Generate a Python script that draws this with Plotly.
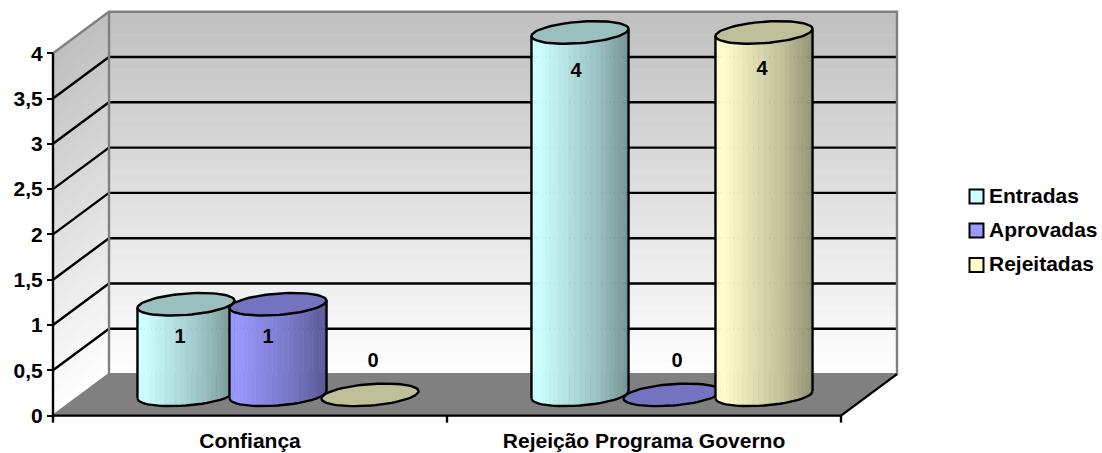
import math
import plotly.graph_objects as go

# ---- data ----
categories = ["Confiança", "Rejeição Programa Governo"]
series_names = ["Entradas", "Aprovadas", "Rejeitadas"]
entradas = [1, 4]
aprovadas = [1, 0]
rejeitadas = [0, 4]
y_ticks = [0, 0.5, 1, 1.5, 2, 2.5, 3, 3.5, 4]
y_tick_labels = ["0", "0,5", "1", "1,5", "2", "2,5", "3", "3,5", "4"]

# ---- layout constants ----
W, H = 1102, 453
X0_PX, Y0_PX = 53.0, 415.6
PX_CAT, PX_UNIT = 394.0, 90.6
DEPTH_X, DEPTH_Y = 56.0 / PX_CAT, 41.5 / PX_UNIT
YMAX = 4
FONT = "Liberation Sans, Arial, sans-serif"
FS = 21
LW = 2.4
BASE = [(204, 255, 255), (153, 153, 255), (255, 255, 204)]
SLOT = 92.0 / PX_CAT
A = 46.0 / PX_CAT          # half width vector
DX = 15.5 / PX_CAT         # half depth vector
DY = 11.3 / PX_UNIT
NUDGE = {(0, 0): (-6, 33.5), (0, 1): (-10, 33.5), (0, 2): (3, -33),
         (1, 0): (-4, 40), (1, 1): (5, -33), (1, 2): (-2, 38)}


def rgb(c, f=1.0):
    return "rgb(%d,%d,%d)" % tuple(round(v * f) for v in c)


traces = []


def poly(xs, ys, color, line_w=0.6):
    traces.append(go.Scatter(x=list(xs) + [xs[0]], y=list(ys) + [ys[0]], mode="lines", fill="toself",
                             fillcolor=color, line=dict(color=color, width=line_w),
                             hoverinfo="skip", showlegend=False))


def line(xs, ys, color="black", w=LW):
    traces.append(go.Scatter(x=xs, y=ys, mode="lines", line=dict(color=color, width=w),
                             hoverinfo="skip", showlegend=False))


# walls
n_cat = len(categories)
N = 32
for i in range(N):
    v0, v1 = YMAX * i / N, YMAX * (i + 1) / N
    g = 255 - (255 - 192) * (i + 0.5) / N
    col = "rgb(%d,%d,%d)" % (g, g, g)
    poly([DEPTH_X, n_cat + DEPTH_X, n_cat + DEPTH_X, DEPTH_X],
         [v0 + DEPTH_Y, v0 + DEPTH_Y, v1 + DEPTH_Y, v1 + DEPTH_Y], col)
    poly([0, DEPTH_X, DEPTH_X, 0], [v0, v0 + DEPTH_Y, v1 + DEPTH_Y, v1], col)

# floor
poly([0, n_cat, n_cat + DEPTH_X, DEPTH_X], [0, 0, DEPTH_Y, DEPTH_Y], "rgb(128,128,128)")

# gridlines
for v in y_ticks[1:-1]:
    line([0, DEPTH_X, n_cat + DEPTH_X], [v, v + DEPTH_Y, v + DEPTH_Y])

# frame
GR = "rgb(128,128,128)"
line([0, DEPTH_X, n_cat + DEPTH_X, n_cat + DEPTH_X, DEPTH_X],
     [YMAX, YMAX + DEPTH_Y, YMAX + DEPTH_Y, DEPTH_Y, DEPTH_Y], GR)
line([DEPTH_X, DEPTH_X], [YMAX + DEPTH_Y, DEPTH_Y], GR)
line([0, DEPTH_X], [0, DEPTH_Y], GR)
line([n_cat, n_cat + DEPTH_X], [0, DEPTH_Y])
line([0, n_cat], [0, 0])
line([0, 0], [0, YMAX])
for c in range(n_cat + 1):
    line([c, c], [0, -7 / PX_UNIT])


# cylinders
T0 = math.atan2(DX * PX_CAT, A * PX_CAT)


def pt(cx, cy, t):
    return cx + A * math.cos(t) + DX * math.sin(t), cy + DY * math.sin(t)


def shade(s):
    if s < 0.08:
        return 1.0
    if s < 0.7:
        return 1.0 - 0.25 * (s - 0.08) / 0.62
    return 0.75 - 0.17 * (s - 0.7) / 0.3


all_series = [entradas, aprovadas, rejeitadas]
lab_x, lab_y, lab_t = [], [], []
for ci in range(n_cat):
    for si, vals in enumerate(all_series):
        v = vals[ci]
        cx = ci + 0.5 + (si - 1) * SLOT + DEPTH_X / 2
        cy = DEPTH_Y / 2
        M = 28
        ts = [T0 + math.pi + math.pi * k / M for k in range(M + 1)]
        base_pts = [pt(cx, cy, t) for t in ts]
        top_pts = [pt(cx, cy + v, t) for t in ts]
        xmin, xmax = base_pts[0][0], base_pts[-1][0]
        if v > 0:
            for k in range(M):
                s = ((base_pts[k][0] + base_pts[k + 1][0]) / 2 - xmin) / (xmax - xmin)
                poly([base_pts[k][0], base_pts[k + 1][0], top_pts[k + 1][0], top_pts[k][0]],
                     [base_pts[k][1], base_pts[k + 1][1], top_pts[k + 1][1], top_pts[k][1]],
                     rgb(BASE[si], shade(s)))
            line([p[0] for p in base_pts], [p[1] for p in base_pts])
            line([base_pts[0][0], top_pts[0][0]], [base_pts[0][1], top_pts[0][1]])
            line([base_pts[-1][0], top_pts[-1][0]], [base_pts[-1][1], top_pts[-1][1]])
        ell = [pt(cx, cy + v, 2 * math.pi * k / 72) for k in range(73)]
        traces.append(go.Scatter(x=[p[0] for p in ell], y=[p[1] for p in ell], mode="lines", fill="toself",
                                 fillcolor=rgb(BASE[si], 0.75), line=dict(color="black", width=LW),
                                 hoverinfo="skip", showlegend=False))
        nx, ny = NUDGE[(ci, si)]
        lab_x.append(cx + nx / PX_CAT)
        lab_y.append(cy + v - ny / PX_UNIT)
        lab_t.append("<b>%d</b>" % v)

traces.append(go.Scatter(x=lab_x, y=lab_y, mode="text", text=lab_t, textposition="middle center",
                         textfont=dict(family=FONT, size=FS - 1, color="black"),
                         hoverinfo="skip", showlegend=False))


# legend
def X(px):
    return (px - X0_PX) / PX_CAT


def Y(py):
    return (Y0_PX - py) / PX_UNIT


for si, (name, py) in enumerate(zip(series_names, [196.5, 230.5, 265])):
    traces.append(go.Scatter(x=[X(976.5)], y=[Y(py)], mode="markers",
                             marker=dict(symbol="square", size=14, color=rgb(BASE[si]),
                                         line=dict(color="black", width=2)),
                             name=name, hoverinfo="skip", showlegend=False))
    traces.append(go.Scatter(x=[X(989)], y=[Y(py + 1)], mode="text", text=["<b>%s</b>" % name],
                             textposition="middle right",
                             textfont=dict(family=FONT, size=FS, color="black"),
                             hoverinfo="skip", showlegend=False))
# category labels as text at the axis
traces.append(go.Scatter(x=[c + 0.5 for c in range(n_cat)], y=[Y(443)] * n_cat, mode="text",
                         text=["<b>%s</b>" % c for c in categories], textposition="middle center",
                         textfont=dict(family=FONT, size=FS, color="black"),
                         hoverinfo="skip", showlegend=False, cliponaxis=False))

fig = go.Figure(traces)
fig.update_layout(
    width=W, height=H, margin=dict(l=0, r=0, t=0, b=0, pad=0), autosize=False,
    paper_bgcolor="white", plot_bgcolor="white", showlegend=False,
    font=dict(family=FONT, size=FS, color="black"),
    xaxis=dict(domain=[0, 1], range=[X(0), X(W)], visible=False),
    yaxis=dict(domain=[0, 1], range=[Y(H), Y(0)], anchor="free", position=X0_PX / W,
               showgrid=False, zeroline=False, showline=False,
               tickmode="array", tickvals=y_ticks, ticktext=["<b>%s</b>" % t for t in y_tick_labels],
               ticks="outside", ticklen=6, tickwidth=2.4, tickcolor="black",
               tickfont=dict(family=FONT, size=FS, color="black")),
)
fig.write_html("out.html", config={"displayModeBar": False},
               post_script="document.documentElement.style.margin='0';document.body.style.margin='0';document.body.style.overflow='hidden';")
